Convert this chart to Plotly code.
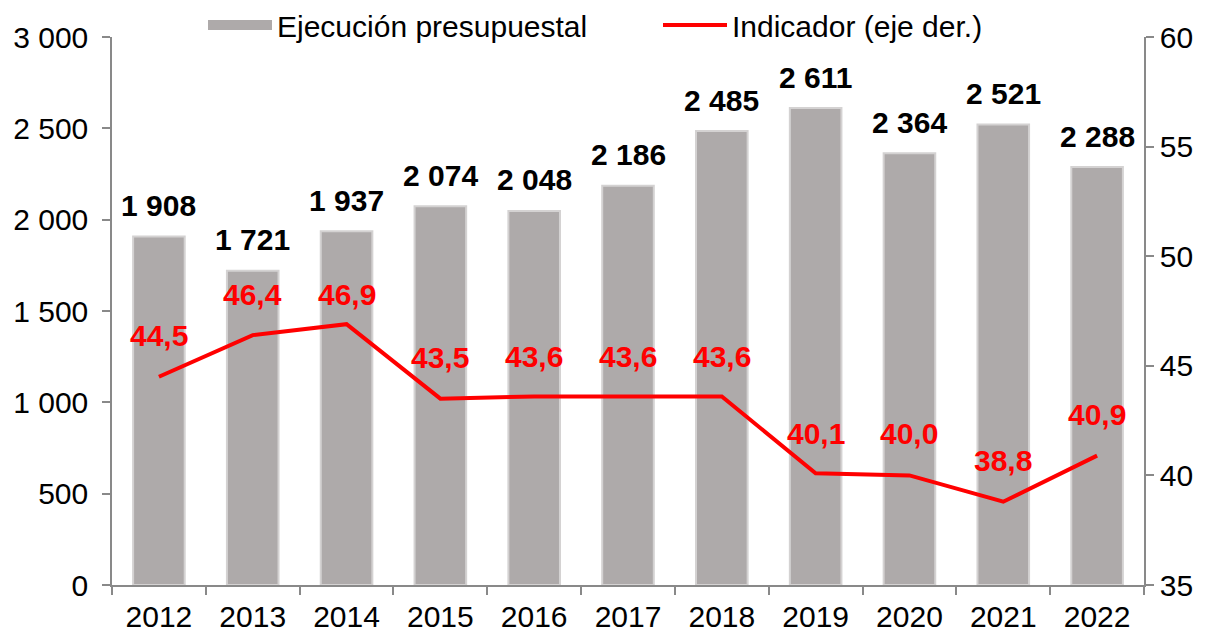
import plotly.graph_objects as go

years = ["2012", "2013", "2014", "2015", "2016", "2017", "2018", "2019", "2020", "2021", "2022"]
ejecucion = [1908, 1721, 1937, 2074, 2048, 2186, 2485, 2611, 2364, 2521, 2288]
indicador = [44.5, 46.4, 46.9, 43.5, 43.6, 43.6, 43.6, 40.1, 40.0, 38.8, 40.9]
left_ticks = [0, 500, 1000, 1500, 2000, 2500, 3000]
left_tick_text = ["0", "500", "1 000", "1 500", "2 000", "2 500", "3 000"]
right_ticks = [35, 40, 45, 50, 55, 60]

# label offsets (pixels above point) for the red labels
red_shift = [41, 41, 30, 41, 40, 40, 40, 40, 42, 41, 41]

FONT = "Liberation Sans, Arial, sans-serif"
AXIS_COLOR = "#898989"
BAR_COLOR = "#aeaaaa"
FS = 30

# page body has an 8px margin; figure is sized to fit the 1209x633 window
W, H = 1201, 625


def fmt_thousands(v):
    return f"{v:,}".replace(",", " ")


fig = go.Figure()
fig.add_trace(go.Bar(
    x=years, y=ejecucion, name="Ejecución presupuestal",
    marker=dict(color=BAR_COLOR, line=dict(color="#d4d2d2", width=2)),
    width=0.55, yaxis="y", showlegend=False, legendgroup="bars",
))
# legend entry for the bars drawn as a wide grey swatch (no data drawn)
fig.add_trace(go.Scatter(
    x=[None], y=[None], name="Ejecución presupuestal", mode="lines",
    line=dict(color=BAR_COLOR, width=16), legendgroup="bars", hoverinfo="skip",
))
fig.add_trace(go.Scatter(
    x=years, y=indicador, name="Indicador (eje der.)", mode="lines",
    line=dict(color="#ff0000", width=4), yaxis="y2",
))

annotations = []
for i, v in enumerate(ejecucion):
    annotations.append(dict(
        x=i, y=v, xref="x", yref="y", text="<b>" + fmt_thousands(v) + "</b>",
        showarrow=False, yanchor="middle", xanchor="center", yshift=31,
        font=dict(family=FONT, size=FS, color="#000000"),
    ))
for i, (v, sh) in enumerate(zip(indicador, red_shift)):
    annotations.append(dict(
        x=i, y=v, xref="x", yref="y2", text="<b>" + f"{v:.1f}".replace(".", ",") + "</b>",
        showarrow=False, yanchor="middle", xanchor="center", yshift=sh,
        font=dict(family=FONT, size=FS, color="#ff0000"),
    ))

fig.update_layout(
    width=W, height=H, autosize=False,
    margin=dict(l=104, r=65, t=29, b=48, autoexpand=False),
    paper_bgcolor="white", plot_bgcolor="white",
    font=dict(family=FONT, size=FS, color="#000000"),
    showlegend=True,
    legend=dict(orientation="h", x=195 / W, xanchor="left", xref="container",
                y=1 - 17 / H, yanchor="middle", yref="container",
                font=dict(family=FONT, size=FS), bgcolor="rgba(0,0,0,0)",
                itemwidth=64, entrywidth=376, entrywidthmode="pixels",
                groupclick="togglegroup"),
    xaxis=dict(
        type="category", range=[-0.5, 10.5], showline=True, linecolor=AXIS_COLOR, linewidth=1.5,
        ticks="outside", tickson="boundaries", ticklen=8, tickcolor=AXIS_COLOR, tickwidth=1.5,
        showgrid=False, tickfont=dict(size=FS), automargin=False, ticklabelstandoff=4,
    ),
    yaxis=dict(
        range=[0, 3000], tickvals=left_ticks, ticktext=left_tick_text,
        showline=True, linecolor=AXIS_COLOR, linewidth=1.5, ticks="outside", ticklen=8,
        tickcolor=AXIS_COLOR, tickwidth=1.5, showgrid=False, zeroline=False,
        tickfont=dict(size=FS), automargin=False, ticklabelstandoff=8,
    ),
    yaxis2=dict(
        range=[35, 60], tickvals=right_ticks, overlaying="y", side="right",
        showline=True, linecolor=AXIS_COLOR, linewidth=1.5, ticks="outside", ticklen=8,
        tickcolor=AXIS_COLOR, tickwidth=1.5, showgrid=False, zeroline=False,
        tickfont=dict(size=FS), automargin=False,
    ),
    annotations=annotations,
)

fig.write_html("out.html")
